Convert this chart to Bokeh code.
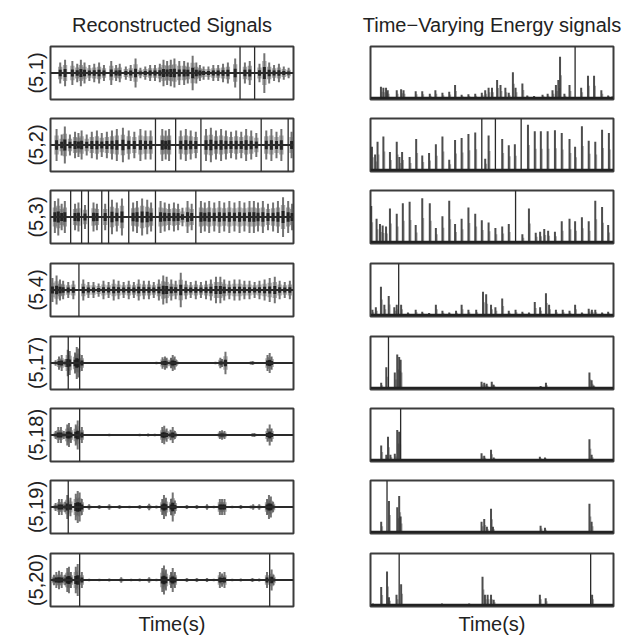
from bokeh.plotting import figure
from bokeh.layouts import column, row
from bokeh.models import Range1d, Span, Title
from bokeh.embed import file_html
from bokeh.resources import INLINE

# ---------------------------------------------------------------------------
# Data: spikes of each panel, time as percent of the record (0-100),
# reconstructed signals as symmetric amplitude (0-1, 1 = full scale),
# energy signals as height above zero (0-1, 1 = full scale).
# ---------------------------------------------------------------------------
row_labels = ["(5,1)", "(5,2)", "(5,3)", "(5,4)", "(5,17)", "(5,18)", "(5,19)", "(5,20)"]

recon_1_pos = [4, 6, 9, 11, 12.5, 14, 16, 18, 20, 22, 25, 27, 28.5, 31, 33, 35, 37, 39, 41, 43, 45,
               46.5, 48, 49.5, 51, 53, 55, 56.5, 58.5, 60, 61.5, 63, 65, 67, 69, 71, 73, 76, 78, 80,
               82, 84, 86, 88, 90, 92, 94, 96, 98]
recon_1_amp = [0.4, 0.5, 0.45, 0.35, 0.5, 0.4, 0.3, 0.35, 0.4, 0.3, 0.45, 0.3, 0.35, 0.25, 0.3, 0.55,
               0.2, 0.25, 0.3, 0.3, 0.35, 0.5, 0.45, 0.5, 0.55, 0.45, 0.45, 0.4, 0.65, 0.4, 0.3, 0.25,
               0.25, 0.3, 0.3, 0.35, 0.4, 0.55, 1.0, 0.4, 0.45, 1.0, 0.35, 0.75, 0.4, 0.3, 0.35, 0.25, 0.2]

recon_2_pos = [2.5, 4.6, 5.9, 8.0, 10.1, 11.5, 12.8, 14.9, 17.0, 19.1, 21.1, 23.2, 25.3, 27.3, 29.8,
               32.2, 34.5, 37.0, 39.1, 41.2, 43.2, 46.0, 47.4, 48.8, 51.5, 53.6, 55.7, 57.7, 59.8,
               61.9, 64.0, 66.0, 68.1, 70.2, 72.2, 74.3, 76.4, 78.5, 80.5, 82.6, 84.7, 86.7, 88.8,
               90.9, 93.0, 95.0, 97.8, 99.2]
recon_2_amp = [0.6, 0.4, 0.7, 0.4, 0.5, 0.45, 0.55, 0.4, 0.5, 0.55, 0.45, 0.5, 0.55, 0.6, 0.65, 0.55,
               0.5, 0.6, 0.55, 0.55, 1.0, 0.6, 0.55, 0.6, 1.0, 0.55, 0.6, 0.55, 0.5, 1.0, 0.6, 0.65,
               0.55, 0.6, 0.55, 0.5, 0.55, 0.5, 0.6, 0.55, 0.45, 1.0, 0.55, 0.6, 0.5, 0.6, 1.0, 0.5]

recon_3_pos = [1.8, 3.2, 4.6, 5.9, 8.3, 10.1, 11.5, 12.8, 14.2, 15.6, 17.7, 19.1, 21.1, 22.5, 23.9,
               25.3, 27.3, 29.4, 32.2, 34.0, 35.6, 37.7, 39.8, 41.4, 43.2, 45.3, 47.0, 48.8, 50.8,
               52.5, 54.3, 56.4, 58.1, 59.8, 61.9, 63.5, 65.3, 67.4, 69.5, 71.5, 73.6, 75.7, 77.8,
               79.8, 81.9, 83.7, 85.4, 87.4, 89.5, 91.6, 93.6, 95.7, 97.8, 99.4]
recon_3_amp = [0.6, 0.7, 0.5, 0.6, 1.0, 0.5, 0.55, 1.0, 0.45, 1.0, 0.55, 0.5, 1.0, 0.5, 1.0, 0.65,
               0.55, 0.7, 1.0, 0.55, 0.6, 0.7, 0.65, 0.55, 1.0, 0.6, 0.55, 0.5, 0.55, 0.5, 0.35, 0.6,
               0.5, 1.0, 0.6, 0.55, 0.6, 0.55, 0.6, 0.55, 0.6, 0.55, 0.6, 0.55, 0.6, 0.6, 0.55, 0.6,
               0.5, 0.55, 0.6, 0.75, 0.6, 0.5]

recon_4_pos = [0.8, 2.5, 3.9, 5.2, 7.3, 9.4, 11.7, 13.5, 15.6, 17.7, 19.8, 21.8, 23.9, 26.0, 28.0,
               30.1, 32.2, 34.3, 36.3, 38.4, 40.5, 42.5, 44.6, 46.4, 47.8, 49.7, 51.5, 53.6, 55.7,
               57.7, 59.8, 61.9, 64.0, 66.0, 68.1, 69.9, 71.5, 73.6, 75.7, 77.8, 79.8, 81.9, 84.0,
               86.0, 88.1, 90.2, 92.3, 94.3, 96.4, 98.5]
recon_4_amp = [0.45, 0.55, 0.4, 0.35, 0.3, 0.35, 1.0, 0.4, 0.3, 0.3, 0.25, 0.35, 0.3, 0.4, 0.35, 0.3,
               0.35, 0.3, 0.4, 0.35, 0.35, 0.3, 0.4, 0.55, 0.5, 0.4, 0.35, 0.65, 0.35, 0.3, 0.35, 0.3,
               0.35, 0.4, 0.5, 0.5, 0.4, 0.35, 0.4, 0.4, 0.35, 0.35, 0.3, 0.35, 0.4, 0.45, 0.5, 0.35,
               0.3, 0.35]

recon_17_pos = [2.1, 3.5, 4.6, 6.2, 7.1, 7.3, 7.9, 10.1, 10.8, 11.5, 12.0, 12.9, 15.9, 19.4, 22.9,
                26.3, 29.8, 33.2, 36.7, 40.2, 43.6, 46.1, 47.1, 47.8, 49.6, 50.3, 51.1, 51.9, 54.7,
                58.2, 61.6, 65.1, 67.9, 69.9, 70.6, 72.0, 75.5, 78.9, 82.4, 83.2, 86.6, 89.3, 90.2,
                91.0, 94.2, 97.6]
recon_17_amp = [0.1, 0.25, 0.3, 0.15, 0.5, 1.0, 0.45, 0.4, 0.6, 0.55, 1.0, 0.3, 0.04, 0.04, 0.04,
                0.04, 0.04, 0.04, 0.04, 0.04, 0.05, 0.22, 0.25, 0.2, 0.2, 0.3, 0.25, 0.1, 0.04, 0.04,
                0.04, 0.04, 0.05, 0.2, 0.15, 0.42, 0.04, 0.04, 0.06, 0.08, 0.04, 0.3, 0.38, 0.25,
                0.04, 0.04]

recon_18_pos = [2.1, 3.2, 4.3, 5.5, 6.9, 7.6, 8.4, 10.4, 11.2, 12.0, 12.9, 16.6, 20.1, 24.2, 28.4,
                32.5, 36.7, 40.2, 42.9, 46.0, 46.8, 47.8, 49.4, 50.3, 51.2, 54.7, 58.9, 63.0, 66.5,
                69.7, 70.6, 71.6, 75.5, 79.6, 83.1, 83.9, 87.3, 89.3, 90.2, 91.0, 94.9, 98.3]
recon_18_amp = [0.15, 0.3, 0.3, 0.15, 0.4, 0.45, 0.3, 0.4, 0.55, 1.0, 0.3, 0.04, 0.04, 0.05, 0.04,
                0.04, 0.05, 0.06, 0.05, 0.3, 0.35, 0.25, 0.2, 0.3, 0.15, 0.04, 0.04, 0.04, 0.04,
                0.15, 0.18, 0.15, 0.04, 0.04, 0.07, 0.08, 0.04, 0.25, 0.4, 0.25, 0.04, 0.04]

recon_19_pos = [2.1, 3.5, 4.6, 6.0, 6.9, 7.3, 8.2, 10.4, 11.2, 12.0, 12.9, 15.9, 20.1, 24.2, 28.4,
                32.5, 36.7, 40.6, 43.6, 46.0, 46.7, 47.5, 49.6, 50.3, 51.2, 56.1, 60.2, 64.4, 67.2,
                69.7, 70.6, 71.6, 74.8, 78.3, 82.4, 83.4, 85.9, 89.1, 89.9, 90.7, 91.6, 94.9, 98.3]
recon_19_amp = [0.15, 0.3, 0.3, 0.2, 0.45, 1.0, 0.35, 0.5, 0.6, 0.55, 0.3, 0.1, 0.08, 0.1, 0.08,
                0.05, 0.08, 0.12, 0.06, 0.3, 0.45, 0.35, 0.3, 0.55, 0.25, 0.08, 0.08, 0.1, 0.05,
                0.3, 0.3, 0.3, 0.05, 0.08, 0.06, 0.1, 0.1, 0.3, 0.45, 0.4, 0.2, 0.04, 0.04]

recon_20_pos = [1.4, 2.4, 3.5, 4.6, 6.0, 6.9, 7.6, 8.4, 10.4, 11.2, 12.0, 12.9, 15.9, 20.1, 24.2,
                29.1, 33.2, 36.7, 40.6, 43.6, 46.0, 46.7, 47.5, 49.6, 50.3, 51.2, 56.1, 60.2, 64.4,
                67.2, 69.7, 70.6, 71.6, 74.8, 78.3, 83.1, 85.9, 89.1, 90.2, 91.0, 91.8, 94.9, 98.3]
recon_20_amp = [0.2, 0.3, 0.35, 0.3, 0.2, 0.45, 0.5, 0.3, 0.5, 0.6, 1.0, 0.3, 0.05, 0.05, 0.06,
                0.1, 0.05, 0.06, 0.1, 0.05, 0.45, 0.55, 0.4, 0.3, 0.45, 0.3, 0.08, 0.08, 0.08, 0.05,
                0.3, 0.25, 0.3, 0.05, 0.06, 0.08, 0.06, 0.3, 1.0, 0.4, 0.2, 0.04, 0.04]

energy_1_pos = [4.3, 5.3, 6.4, 7.1, 10.8, 12.6, 13.6, 18.6, 21.3, 24.4, 26.7, 29.6, 32.4, 34.8, 37.5,
                40.3, 43.1, 45.8, 47.2, 48.6, 50.0, 52.1, 53.5, 55.5, 56.9, 58.6, 59.7, 62.5, 64.5,
                67.3, 70.8, 72.9, 74.9, 76.3, 77.3, 78.0, 79.8, 81.9, 84.2, 86.7, 89.5, 92.0, 95.0,
                97.8, 99.5]
energy_1_val = [0.22, 0.2, 0.2, 0.15, 0.15, 0.17, 0.15, 0.13, 0.13, 0.08, 0.15, 0.1, 0.12, 0.25,
                0.06, 0.07, 0.08, 0.1, 0.15, 0.2, 0.2, 0.35, 0.25, 0.2, 0.1, 0.5, 0.2, 0.28, 0.05,
                0.04, 0.06, 0.08, 0.15, 0.25, 0.35, 0.8, 0.08, 0.25, 1.0, 0.2, 0.43, 0.43, 0.15,
                0.05, 0.03]

energy_2_pos = [0.6, 1.9, 2.9, 5.3, 8.0, 10.8, 11.9, 13.0, 16.1, 18.8, 21.3, 24.1, 26.9, 29.6, 32.4,
                34.8, 37.5, 40.3, 43.1, 45.8, 47.2, 48.6, 51.4, 54.2, 56.9, 59.4, 62.0, 64.8, 67.6,
                70.1, 72.9, 75.9, 78.7, 81.9, 84.2, 87.0, 89.8, 92.5, 95.3, 98.1]
energy_2_val = [0.45, 0.3, 0.55, 0.65, 0.35, 0.55, 0.25, 0.35, 0.25, 0.6, 0.28, 0.33, 0.5, 0.65,
                0.2, 0.58, 0.62, 0.7, 0.73, 1.0, 0.22, 0.67, 1.0, 0.6, 0.48, 0.5, 1.0, 0.88, 0.75,
                0.75, 0.75, 0.77, 0.72, 0.6, 0.45, 0.85, 0.57, 0.55, 0.78, 0.72]

energy_3_pos = [0.3, 2.5, 3.9, 5.0, 6.4, 8.0, 10.8, 13.3, 16.1, 18.6, 21.3, 24.4, 26.9, 29.6, 32.4,
                34.8, 37.5, 40.3, 43.1, 45.8, 48.6, 51.4, 54.2, 56.9, 59.7, 62.5, 65.2, 68.0, 69.8,
                71.5, 73.1, 75.9, 78.7, 81.9, 84.2, 87.0, 89.8, 92.5, 95.3, 97.8]
energy_3_val = [0.7, 0.45, 0.35, 0.32, 0.3, 0.65, 0.55, 0.75, 0.78, 0.33, 0.85, 0.75, 0.27, 0.5,
                0.8, 0.35, 0.45, 0.67, 0.55, 0.42, 0.38, 0.27, 0.3, 0.35, 1.0, 0.15, 0.65, 0.18,
                0.2, 0.25, 0.22, 0.2, 0.4, 0.45, 0.4, 0.48, 0.4, 0.8, 0.68, 0.33]

energy_4_pos = [0.8, 2.2, 4.3, 5.7, 7.5, 9.8, 10.8, 11.6, 12.6, 15.4, 18.6, 21.3, 24.1, 26.9, 29.6,
                32.4, 35.2, 37.5, 40.3, 43.5, 46.3, 47.6, 49.6, 51.4, 54.2, 56.9, 59.7, 62.5, 65.2,
                67.6, 69.8, 72.2, 73.5, 76.3, 79.1, 81.9, 84.2, 87.0, 89.8, 91.1, 92.5, 95.3, 97.8]
energy_4_val = [0.1, 0.15, 0.55, 0.2, 0.37, 0.15, 0.2, 1.0, 0.2, 0.05, 0.1, 0.06, 0.04, 0.2, 0.08,
                0.05, 0.08, 0.2, 0.1, 0.1, 0.45, 0.4, 0.2, 0.15, 0.32, 0.08, 0.1, 0.06, 0.05, 0.25,
                0.15, 0.42, 0.2, 0.1, 0.1, 0.08, 0.2, 0.05, 0.12, 0.1, 0.1, 0.05, 0.06]

energy_17_pos = [4.4, 6.5, 7.4, 10.0, 11.0, 11.8, 12.4, 45.7, 46.8, 47.8, 49.9, 50.7, 70.0, 72.2,
                 90.1, 91.0, 91.8]
energy_17_val = [0.1, 0.4, 1.0, 0.3, 0.65, 0.6, 0.55, 0.12, 0.1, 0.08, 0.12, 0.06, 0.04, 0.1,
                 0.3, 0.15, 0.05]

energy_18_pos = [4.4, 6.5, 7.2, 8.2, 10.0, 11.0, 11.8, 12.4, 45.7, 46.8, 49.6, 50.7, 69.7, 71.8,
                 90.1, 91.0]
energy_18_val = [0.28, 0.1, 0.45, 0.1, 0.12, 0.58, 0.55, 1.0, 0.13, 0.08, 0.2, 0.05, 0.06, 0.05,
                 0.4, 0.1]

energy_19_pos = [4.4, 6.8, 7.6, 11.0, 11.8, 12.4, 45.7, 46.8, 47.9, 49.6, 50.4, 70.0, 71.8, 90.1,
                 91.0]
energy_19_val = [0.2, 1.0, 0.6, 0.48, 0.7, 0.3, 0.2, 0.25, 0.1, 0.45, 0.1, 0.12, 0.08, 0.55, 0.2]

energy_20_pos = [1.0, 4.4, 6.8, 7.6, 10.7, 11.8, 12.6, 29.4, 40.6, 46.1, 47.1, 48.2, 49.6, 50.7,
                 69.7, 72.1, 90.6, 91.2]
energy_20_val = [0.03, 0.35, 0.65, 0.15, 0.2, 1.0, 0.4, 0.03, 0.03, 0.55, 0.2, 0.2, 0.2, 0.1,
                 0.2, 0.13, 1.0, 0.2]

recon_rows = [
    (recon_1_pos, recon_1_amp), (recon_2_pos, recon_2_amp), (recon_3_pos, recon_3_amp),
    (recon_4_pos, recon_4_amp), (recon_17_pos, recon_17_amp), (recon_18_pos, recon_18_amp),
    (recon_19_pos, recon_19_amp), (recon_20_pos, recon_20_amp),
]
energy_rows = [
    (energy_1_pos, energy_1_val), (energy_2_pos, energy_2_val), (energy_3_pos, energy_3_val),
    (energy_4_pos, energy_4_val), (energy_17_pos, energy_17_val), (energy_18_pos, energy_18_val),
    (energy_19_pos, energy_19_val), (energy_20_pos, energy_20_val),
]

FONT = "Liberation Sans"
TEXT = "#222222"
FRAME = "#3c3c3c"
FRAME_H = 53
# gap above each panel row (first row carries the column titles)
top_gaps = [46, 10, 10, 10, 10, 10, 10, 10]
bottom_gaps = [9, 9, 10, 10, 9, 9, 10, 33]


def base_fig(width, left, right, top, bottom, y0, y1):
    p = figure(width=width, height=top + FRAME_H + bottom,
               x_range=Range1d(0, 100), y_range=Range1d(y0, y1),
               x_axis_location=None, y_axis_location=None,
               toolbar_location=None, output_backend="svg",
               min_border_left=left, min_border_right=right,
               min_border_top=top, min_border_bottom=bottom)
    p.grid.visible = False
    p.outline_line_color = FRAME
    p.outline_line_width = 2
    p.background_fill_color = "white"
    p.border_fill_color = "white"
    return p


def text_title(text, size="20px", standoff=10):
    return Title(text=text, align="center", text_font=FONT, text_font_size=size,
                 text_font_style="normal", text_color=TEXT, standoff=standoff)


def burst_marks(p, xs, amps):
    """Symmetric burst at each time: soft outer stroke, faint shoulders, dark core."""
    p.segment(x0=xs, y0=[-a for a in amps], x1=xs, y1=amps,
              line_color="#444444", line_width=2.0, line_alpha=0.75)
    for dx in (-0.6, 0.6):
        sx = [x + dx for x in xs]
        p.segment(x0=sx, y0=[-0.6 * a for a in amps], x1=sx, y1=[0.6 * a for a in amps],
                  line_color="#555555", line_width=1.4, line_alpha=0.5)
    p.segment(x0=xs, y0=[-0.3 * a for a in amps], x1=xs, y1=[0.3 * a for a in amps],
              line_color="#1a1a1a", line_width=3.0, line_alpha=0.9)


def peak_marks(p, xs, vals):
    """Energy peak at each time: main stroke plus a faint shoulder."""
    p.segment(x0=[x + 0.5 for x in xs], y0=[0] * len(xs), x1=[x + 0.5 for x in xs],
              y1=[0.55 * v for v in vals], line_color="#555555", line_width=1.4, line_alpha=0.5)
    p.segment(x0=xs, y0=[0] * len(xs), x1=xs, y1=vals,
              line_color="#2e2e2e", line_width=2.0, line_alpha=0.85)


rows = []
for i, label in enumerate(row_labels):
    top, bottom = top_gaps[i], bottom_gaps[i]

    # --- reconstructed signal: symmetric bursts around zero
    pos, amp = recon_rows[i]
    lp = base_fig(320, 50, 27, top, bottom, -1, 1)
    lp.add_layout(text_title(label, size="20px", standoff=7), "left")
    lp.add_layout(Span(location=0, dimension="width", line_color="#2a2a2a", line_width=1.8))
    bx = [x for x, a in zip(pos, amp) if a < 1]
    ba = [a for x, a in zip(pos, amp) if a < 1]
    burst_marks(lp, bx, ba)
    fx = [x for x, a in zip(pos, amp) if a >= 1]
    fa = [a for x, a in zip(pos, amp) if a >= 1]
    if fx:
        lp.segment(x0=fx, y0=[-a for a in fa], x1=fx, y1=fa,
                   line_color="#2a2a2a", line_width=1.3)

    # --- time-varying energy: non-negative peaks from the zero line
    epos, evals = energy_rows[i]
    rp = base_fig(323, 50, 30, top, bottom, -0.03, 1)
    rp.add_layout(Span(location=0, dimension="width", line_color="#222222", line_width=2.2))
    sx = [x for x, v in zip(epos, evals) if v < 1]
    sv = [v for x, v in zip(epos, evals) if v < 1]
    peak_marks(rp, sx, sv)
    tx = [x for x, v in zip(epos, evals) if v >= 1]
    tv = [v for x, v in zip(epos, evals) if v >= 1]
    if tx:
        rp.segment(x0=tx, y0=[0] * len(tx), x1=tx, y1=tv,
                   line_color="#2a2a2a", line_width=1.3)

    if i == 0:
        lp.add_layout(text_title("Reconstructed Signals", standoff=22), "above")
        rp.add_layout(text_title("Time\u2212Varying Energy signals", standoff=22), "above")
    if i == len(row_labels) - 1:
        lp.add_layout(text_title("Time(s)", standoff=9), "below")
        rp.add_layout(text_title("Time(s)", standoff=9), "below")

    rows.append(row(lp, rp))

layout = column(*rows)

open("out.html", "w").write(file_html(layout, INLINE))
